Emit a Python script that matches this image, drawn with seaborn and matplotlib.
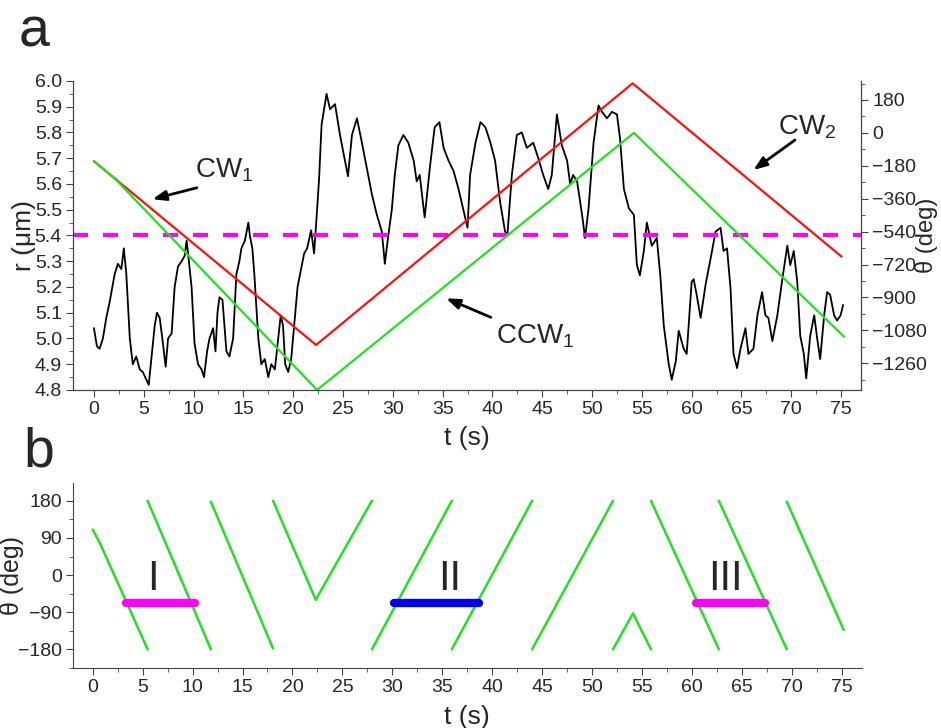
import numpy as np
import pandas as pd
import seaborn as sns
import matplotlib.pyplot as plt
from matplotlib.ticker import MultipleLocator

sns.set_style("ticks")
plt.rcParams['font.family'] = ['Liberation Sans', 'DejaVu Sans']
plt.rcParams['mathtext.default'] = 'regular'

# ---- panel a: radius trace ----
r_time = [0.0, 0.3, 0.57, 0.9, 1.24, 1.57, 2.08, 2.4, 2.75, 3.0, 3.25, 3.6, 3.9, 4.25,
          4.6, 4.9, 5.26, 5.5, 5.76, 6.1, 6.33, 6.6, 6.93, 7.2, 7.44, 7.8, 8.1, 8.44,
          8.8, 9.1, 9.3, 9.45, 9.8, 10.1, 10.45, 10.8, 11.05, 11.36, 11.6, 11.96, 12.2,
          12.4, 12.6, 12.9, 13.3, 13.6, 13.97, 14.3, 14.6, 14.8, 15.15, 15.5, 15.65,
          15.9, 16.1, 16.5, 16.8, 17.15, 17.5, 17.8, 18.16, 18.5, 18.75, 18.98, 19.2,
          19.5, 19.8, 20.1, 20.44, 20.8, 21.1, 21.4, 21.8, 22.1, 22.4, 22.6, 22.85,
          23.35, 23.7, 24.2, 24.7, 25.2, 25.5, 25.9, 26.4, 26.9, 27.4, 27.9, 28.4,
          28.9, 29.2, 29.55, 29.9, 30.2, 30.56, 31.06, 31.56, 32.1, 32.4, 32.7, 33.2,
          33.74, 34.2, 34.68, 35.1, 35.6, 36.1, 36.6, 36.9, 37.26, 37.5, 37.76, 38.3,
          38.8, 39.3, 39.8, 40.27, 40.77, 41.27, 41.5, 41.95, 42.45, 42.95, 43.45,
          44.1, 44.6, 45.1, 45.6, 45.96, 46.47, 46.97, 47.5, 47.8, 48.1, 48.5, 49.0,
          49.3, 49.65, 50.15, 50.65, 51.0, 51.5, 52.0, 52.5, 52.8, 53.2, 53.7, 54.2,
          54.5, 54.8, 55.2, 55.5, 56.0, 56.5, 56.85, 57.2, 57.7, 58.0, 58.4, 58.7,
          59.2, 59.5, 60.0, 60.2, 60.5, 60.9, 61.4, 61.9, 62.4, 62.9, 63.2, 63.55,
          63.9, 64.2, 64.56, 64.9, 65.4, 65.7, 66.2, 66.6, 67.07, 67.4, 67.7, 68.1,
          68.6, 69.1, 69.6, 69.9, 70.25, 70.6, 70.9, 71.26, 71.5, 71.9, 72.3, 72.6,
          72.9, 73.3, 73.6, 73.9, 74.3, 74.6, 74.95, 75.2]
r_value = [5.04, 4.97, 4.96, 5.0, 5.08, 5.14, 5.25, 5.29, 5.27, 5.35, 5.25, 5.0, 4.9, 4.93,
           4.88, 4.87, 4.84, 4.82, 4.92, 5.05, 5.1, 5.08, 4.98, 4.89, 5.0, 5.02, 5.2, 5.28,
           5.3, 5.32, 5.38, 5.33, 5.2, 4.98, 4.9, 4.88, 4.85, 4.95, 5.0, 5.04, 4.95,
           5.1, 5.16, 5.15, 4.95, 4.93, 5.0, 5.25, 5.3, 5.35, 5.38, 5.45, 5.4,
           5.35, 5.25, 5.0, 4.9, 4.92, 4.85, 4.9, 4.88, 5.0, 5.09, 5.05, 4.9,
           4.87, 4.92, 5.05, 5.2, 5.27, 5.33, 5.35, 5.42, 5.33, 5.5, 5.62, 5.83,
           5.95, 5.89, 5.91, 5.79, 5.69, 5.63, 5.79, 5.855, 5.76, 5.66, 5.56, 5.48,
           5.415, 5.29, 5.40, 5.50, 5.635, 5.75, 5.79, 5.76, 5.69, 5.61, 5.635, 5.47,
           5.67, 5.82, 5.84, 5.74, 5.69, 5.65, 5.58, 5.53, 5.47, 5.43, 5.635, 5.76,
           5.84, 5.82, 5.76, 5.69, 5.53, 5.415, 5.40, 5.635, 5.79, 5.80, 5.74,
           5.76, 5.70, 5.635, 5.58, 5.635, 5.87, 5.75, 5.69, 5.60, 5.635, 5.61, 5.48,
           5.39, 5.505, 5.76, 5.905, 5.88, 5.855, 5.88, 5.87, 5.78, 5.58, 5.505, 5.48,
           5.285, 5.245, 5.34, 5.45, 5.36, 5.39, 5.245, 5.05, 4.90, 4.84, 4.91, 5.03,
           4.96, 4.94, 5.22, 5.23, 5.17, 5.08, 5.21, 5.31, 5.415, 5.43, 5.34, 5.35,
           5.195, 4.94, 4.885, 4.96, 5.04, 4.94, 4.96, 5.09, 5.18, 5.09, 5.08, 4.99,
           5.09, 5.23, 5.36, 5.285, 5.34, 5.22, 5.01, 4.94, 4.845, 5.01, 5.09, 5.00,
           4.92, 5.09, 5.18, 5.17, 5.09, 5.07, 5.09, 5.13]
r_threshold = 5.4

# angle of the two reference traces (right axis)
red_time = [0.0, 22.3, 54.07, 75.05]
red_theta = [-155, -1160, 271, -677]
green_time = [0.0, 2.25, 22.4, 54.2, 75.3]
green_theta = [-155, -258, -1406, 0, -1115]

# ---- panel b: wrapped angle, one entry per segment ----
seg_time = [[0.0, 0.73, 5.5], [5.5, 11.83], [11.83, 18.06], [18.06, 22.33, 27.96],
            [27.96, 35.96], [35.96, 44.0], [44.0, 52.1], [52.1, 54.1, 55.9],
            [55.9, 62.7], [62.7, 69.5], [69.5, 75.2]]
seg_theta = [[110, 77, -180], [180, -180], [178, -178], [180, -60, 180],
             [-180, 180], [-180, 180], [-180, 180], [-180, -93, -180],
             [180, -180], [180, -180], [178, -133]]
bar_labels = ['I', 'II', 'III']
bar_label_t = [6.0, 35.7, 63.4]
bar_start = [3.33, 30.2, 60.4]
bar_end = [10.24, 38.7, 67.3]
bar_theta = -67
bar_colors = ['#ff00ff', '#0000ee', '#ff00ff']

RED = '#ff1010'
GREEN = '#22e022'
SPINE = '#444444'


def style_axis(a):
    for s in a.spines.values():
        s.set_color(SPINE)
    a.tick_params(which='both', direction='out', color=SPINE, labelsize=14, pad=3)
    a.tick_params(which='major', length=5)
    a.tick_params(which='minor', length=3)


fig = plt.figure(figsize=(9.41, 7.28), dpi=100)
ax = fig.add_axes([0.0776, 0.4643, 0.8374, 0.4245])
ax2 = ax.twinx()

df_r = pd.DataFrame({'t': r_time, 'r': r_value})
sns.lineplot(data=df_r, x='t', y='r', ax=ax, color='black', linewidth=1.3)
ax.axhline(r_threshold, color='#ff00ff', linestyle=(0, (3.6, 3.6)), linewidth=3)

sns.lineplot(x=red_time, y=red_theta, ax=ax2, color=RED, linewidth=1.6)
sns.lineplot(x=green_time, y=green_theta, ax=ax2, color=GREEN, linewidth=1.6)

ax.set_xlim(-2.1, 77.0)
ax.set_ylim(4.8, 6.0)
ax2.set_ylim(-1406, 284)
ax.xaxis.set_major_locator(MultipleLocator(5))
ax.xaxis.set_minor_locator(MultipleLocator(2.5))
ax.yaxis.set_major_locator(MultipleLocator(0.1))
ax.yaxis.set_minor_locator(MultipleLocator(0.05))
ax.yaxis.set_major_formatter(plt.FormatStrFormatter('%.1f'))
ax2.set_yticks([180, 0, -180, -360, -540, -720, -900, -1080, -1260])
ax2.yaxis.set_minor_locator(MultipleLocator(90))

ax.set_xlabel('t (s)', fontsize=19, labelpad=6)
ax.set_ylabel('r (μm)', fontsize=19)
ax.yaxis.set_label_coords(-0.047, 0.5)
ax2.set_ylabel('θ (deg)', fontsize=17)
ax2.yaxis.set_label_coords(1.069, 0.5)

for a in (ax, ax2):
    a.spines['top'].set_visible(False)
    style_axis(a)

arrow = dict(arrowstyle='-|>,head_length=0.8,head_width=0.3', color='black', lw=2)
ax.annotate('', xy=(5.6, 5.538), xytext=(10.6, 5.588), arrowprops=arrow)
ax.text(10.1, 5.654, 'CW$_1$', fontsize=20, va='center', ha='left')
ax.annotate('', xy=(35.1, 5.16), xytext=(40.1, 5.078), arrowprops=arrow)
ax.text(40.4, 5.007, 'CCW$_1$', fontsize=20, va='center', ha='left')
ax.annotate('', xy=(65.97, 5.648), xytext=(70.6, 5.777), arrowprops=arrow)
ax.text(68.7, 5.82, 'CW$_2$', fontsize=20, va='center', ha='left')

# ---- panel b ----
bx = fig.add_axes([0.0773, 0.082, 0.8384, 0.255])
rows = []
for i, (ts, ths) in enumerate(zip(seg_time, seg_theta)):
    for t, th in zip(ts, ths):
        rows.append({'seg': i, 't': t, 'theta': th})
df_seg = pd.DataFrame(rows)
sns.lineplot(data=df_seg, x='t', y='theta', units='seg', estimator=None,
             color=GREEN, linewidth=1.8, ax=bx)

for lab, tl, t0, t1, c in zip(bar_labels, bar_label_t, bar_start, bar_end, bar_colors):
    bx.plot([t0, t1], [bar_theta, bar_theta], color=c, linewidth=6,
            solid_capstyle='round')
    bx.text(tl, -10, lab, fontsize=30, ha='center', va='center')

bx.set_xlim(-2.0, 77.0)
bx.set_ylim(-226, 224)
bx.set_yticks([180, 90, 0, -90, -180])
bx.yaxis.set_minor_locator(MultipleLocator(45))
bx.xaxis.set_major_locator(MultipleLocator(5))
bx.xaxis.set_minor_locator(MultipleLocator(2.5))
bx.set_xlabel('t (s)', fontsize=19, labelpad=6)
bx.set_ylabel('θ (deg)', fontsize=18)
bx.yaxis.set_label_coords(-0.062, 0.5)
sns.despine(ax=bx)
style_axis(bx)

fig.text(0.02, 0.955, 'a', fontsize=40, va='center')
fig.text(0.025, 0.378, 'b', fontsize=40, va='center')

fig.savefig('out.png', dpi=100)
